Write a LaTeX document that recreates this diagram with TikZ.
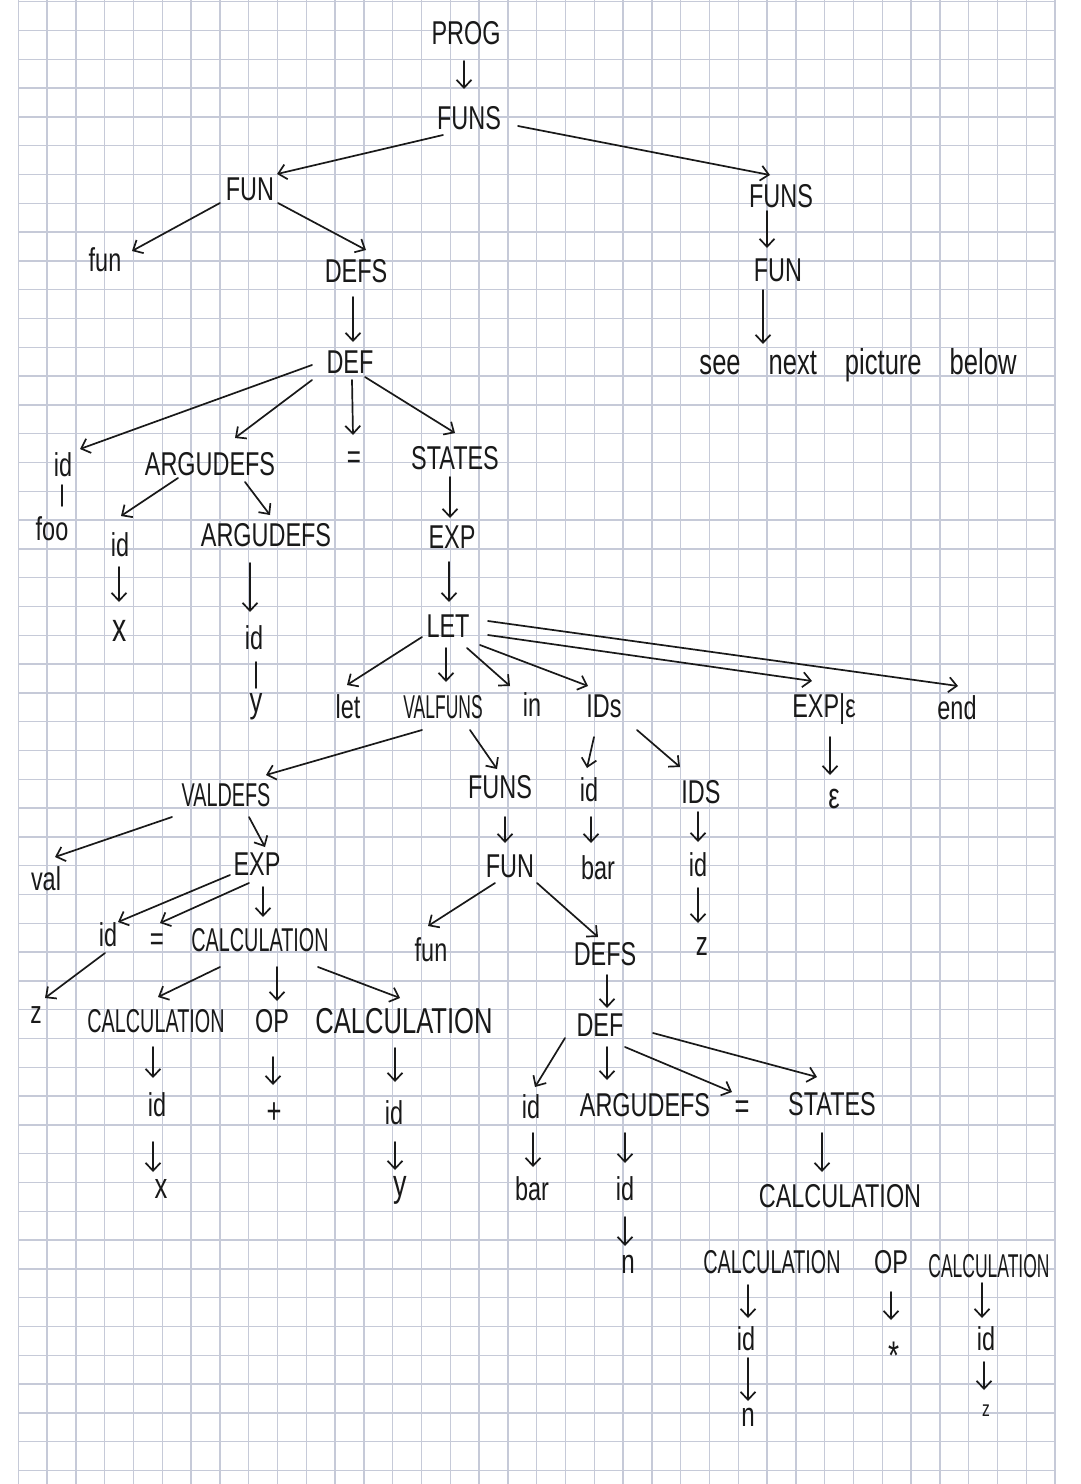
\documentclass[tikz,border=0pt]{standalone}
\usepackage{fontspec}
\setmainfont{Liberation Sans}[FakeStretch=0.71]
\newfontfamily\hwn{Liberation Sans}[FakeStretch=0.60]
\newfontfamily\hwnn{Liberation Sans}[FakeStretch=0.53]
\usetikzlibrary{arrows.meta}
\definecolor{ink}{RGB}{25,25,25}
\definecolor{gridc}{RGB}{198,202,216}
\tikzset{
  lbl/.style={font=\fontsize{33}{35}\selectfont, text height=24pt, text depth=0pt, inner sep=0pt, text=ink},
  sym/.style={inner sep=0pt, text=ink},
  arr/.style={draw=ink, line width=1.7pt, line cap=round, -{Straight Barb[length=8pt,width=15pt]}},
  lnk/.style={draw=ink, line width=1.7pt, line cap=round},
  gridln/.style={draw=gridc, line width=1.5pt}
}
\begin{document}
\begin{tikzpicture}[x=1pt,y=-1pt]
\useasboundingbox (0,0) rectangle (1080,1484);
\fill[white] (0,0) rectangle (1080,1484);
% grid paper
\foreach \k in {0,...,36} { \draw[gridln] ({18.3+28.8*\k},0) -- ({18.3+28.8*\k},1484); }
\foreach \k in {0,...,51} { \draw[gridln] (18.3,{1.7+28.8*\k}) -- (1055.1,{1.7+28.8*\k}); }

% nodes
\node[lbl] (PROG) at (466,32) {PROG};
\node[lbl] (FUNSa) at (469,117) {FUNS};
\node[lbl] (FUNa) at (250,188) {FUN};
\node[lbl] (FUNSb) at (781,195) {FUNS};
\node[lbl] (funa) at (105,259) {fun};
\node[lbl] (DEFSa) at (356,270) {DEFS};
\node[lbl] (FUNb) at (778,269) {FUN};
\node[lbl, font=\fontsize{36}{38}\selectfont] (see) at (858,362) {\spaceskip=28pt see next picture below};
\node[lbl] (DEFa) at (350,361) {DEF};
\node[lbl] (ida) at (63,464) {id};
\node[lbl] (foo) at (52,528) {foo};
\node[lbl] (ARGa) at (210,463) {ARGUDEFS};
\node[sym, font=\fontsize{34}{36}\selectfont] (eqa) at (354,460) {=};
\node[lbl] (STATESa) at (455,457) {STATES};
\node[lbl] (idx) at (120,544) {id};
\node[sym, font=\fontsize{40}{42}\selectfont] (xa) at (120,631) {x};
\node[lbl] (ARGb) at (266,534) {ARGUDEFS};
\node[lbl] (idy) at (254,637) {id};
\node[sym, font=\fontsize{36}{38}\selectfont] (ya) at (256,707) {y};
\node[lbl] (EXPa) at (452,536) {EXP};
\node[lbl] (LET) at (448,625) {LET};
\node[lbl] (let) at (348,706) {let};
\node[lbl, font=\fontsize{33}{35}\hwnn] (VALFUNS) at (443,706) {VALFUNS};
\node[lbl] (in) at (532,704) {in};
\node[lbl] (IDs) at (604,705) {IDs};
\node[lbl] (EXPeps) at (824,705) {EXP|ε};
\node[lbl] (end) at (957,707) {end};
\node[lbl, font=\fontsize{33}{35}\hwn] (VALDEFS) at (226,794) {VALDEFS};
\node[lbl] (FUNSc) at (500,786) {FUNS};
\node[lbl] (idbar) at (589,789) {id};
\node[lbl] (IDS) at (701,791) {IDS};
\node[sym, font=\fontsize{36}{38}\selectfont] (eps) at (834,799) {ε};
\node[lbl] (val) at (46,878) {val};
\node[lbl] (EXPb) at (257,863) {EXP};
\node[lbl] (FUNc) at (510,865) {FUN};
\node[lbl] (bara) at (598,867) {bar};
\node[lbl] (idz) at (698,864) {id};
\node[lbl] (idl) at (108,934) {id};
\node[sym, font=\fontsize{34}{36}\selectfont] (eqb) at (157,942) {=};
\node[lbl, font=\fontsize{33}{35}\hwn] (CALCa) at (260,939) {CALCULATION};
\node[lbl] (func) at (431,949) {fun};
\node[lbl] (DEFSb) at (605,953) {DEFS};
\node[sym, font=\fontsize{34}{36}\selectfont] (za) at (702,947) {z};
\node[sym, font=\fontsize{32}{34}\selectfont] (zb) at (36,1015) {z};
\node[lbl, font=\fontsize{33}{35}\hwn] (CALCb) at (156,1020) {CALCULATION};
\node[lbl] (OPa) at (272,1020) {OP};
\node[lbl, font=\fontsize{36}{38}\selectfont] (CALCc) at (404,1021) {CALCULATION};
\node[lbl] (DEFb) at (600,1024) {DEF};
\node[lbl] (idc) at (157,1104) {id};
\node[sym, font=\fontsize{36}{38}\selectfont] (plus) at (274,1113) {+};
\node[lbl] (idd) at (394,1112) {id};
\node[lbl] (ide) at (531,1106) {id};
\node[lbl] (ARGc) at (645,1104) {ARGUDEFS};
\node[sym, font=\fontsize{36}{38}\selectfont] (eqc) at (742,1110) {=};
\node[lbl] (STATESb) at (832,1103) {STATES};
\node[sym, font=\fontsize{36}{38}\selectfont] (xb) at (161,1189) {x};
\node[sym, font=\fontsize{38}{40}\selectfont] (yb) at (400,1190) {y};
\node[lbl] (barb) at (532,1188) {bar};
\node[lbl] (idf) at (625,1188) {id};
\node[lbl] (CALCd) at (840,1195) {CALCULATION};
\node[sym, font=\fontsize{34}{36}\selectfont] (na) at (628,1264) {n};
\node[lbl, font=\fontsize{33}{35}\hwn] (CALCe) at (772,1261) {CALCULATION};
\node[lbl] (OPb) at (891,1261) {OP};
\node[lbl, font=\fontsize{33}{35}\hwnn] (CALCf) at (989,1265) {CALCULATION};
\node[lbl] (idg) at (746,1338) {id};
\node[sym, font=\fontsize{40}{42}\selectfont] (star) at (894,1356) {*};
\node[lbl] (idh) at (986,1338) {id};
\node[sym, font=\fontsize{34}{36}\selectfont] (nb) at (748,1417) {n};
\node[sym, font=\fontsize{22}{24}\selectfont] (zc) at (986,1411) {z};

% connectors
\draw[arr] ([shift={(-2,29)}]PROG.center) -- ([shift={(-5,-28)}]FUNSa.center);
\draw[arr] ([shift={(-26,18)}]FUNSa.center) -- ([shift={(27,-14)}]FUNa.center);
\draw[arr] ([shift={(49,9)}]FUNSa.center) -- ([shift={(-11,-20)}]FUNSb.center);
\draw[arr] ([shift={(-30,15)}]FUNa.center) -- ([shift={(27,-8)}]funa.center);
\draw[arr] ([shift={(28,15)}]FUNa.center) -- ([shift={(10,-20)}]DEFSa.center);
\draw[arr] ([shift={(-3,27)}]DEFSa.center) -- ([shift={(3,-19)}]DEFa.center);
\draw[arr] ([shift={(-14,16)}]FUNSb.center) -- ([shift={(-11,-21)}]FUNb.center);
\draw[arr] ([shift={(-15,21)}]FUNb.center) -- ([shift={(-95,-18)}]see.center);
\draw[arr] ([shift={(-38,4)}]DEFa.center) -- ([shift={(17,-15)}]ida.center);
\draw[arr] ([shift={(-38,19)}]DEFa.center) -- ([shift={(25,-25)}]ARGa.center);
\draw[arr] ([shift={(2,19)}]DEFa.center) -- ([shift={(-1,-25)}]eqa.center);
\draw[arr] ([shift={(15,16)}]DEFa.center) -- ([shift={(0,-24)}]STATESa.center);
\draw[lnk] ([shift={(-1,21)}]ida.center) -- ([shift={(10,-22)}]foo.center);
\draw[arr] ([shift={(-32,15)}]ARGa.center) -- ([shift={(1,-28)}]idx.center);
\draw[arr] ([shift={(35,19)}]ARGa.center) -- ([shift={(4,-19)}]ARGb.center);
\draw[arr] ([shift={(-1,23)}]idx.center) -- ([shift={(-1,-29)}]xa.center);
\draw[arr] ([shift={(-16,29)}]ARGb.center) -- ([shift={(-4,-25)}]idy.center);
\draw[lnk] ([shift={(2,25)}]idy.center) -- ([shift={(0,-19)}]ya.center);
\draw[arr] ([shift={(-5,20)}]STATESa.center) -- ([shift={(-2,-18)}]EXPa.center);
\draw[arr] ([shift={(-3,26)}]EXPa.center) -- ([shift={(1,-23)}]LET.center);
\draw[arr] ([shift={(-26,12)}]LET.center) -- ([shift={(-1,-21)}]let.center);
\draw[arr] ([shift={(-2,23)}]LET.center) -- ([shift={(3,-24)}]VALFUNS.center);
\draw[arr] ([shift={(19,23)}]LET.center) -- ([shift={(-22,-18)}]in.center);
\draw[arr] ([shift={(32,20)}]LET.center) -- ([shift={(-16,-19)}]IDs.center);
\draw[arr] ([shift={(40,10)}]LET.center) -- ([shift={(-12,-24)}]EXPeps.center);
\draw[arr] ([shift={(40,-4)}]LET.center) -- ([shift={(1,-21)}]end.center);
\draw[arr] ([shift={(-21,24)}]VALFUNS.center) -- ([shift={(40,-19)}]VALDEFS.center);
\draw[arr] ([shift={(27,24)}]VALFUNS.center) -- ([shift={(-3,-17)}]FUNSc.center);
\draw[arr] ([shift={(-10,32)}]IDs.center) -- ([shift={(-2,-21)}]idbar.center);
\draw[arr] ([shift={(33,25)}]IDs.center) -- ([shift={(-21,-24)}]IDS.center);
\draw[arr] ([shift={(6,32)}]EXPeps.center) -- ([shift={(-4,-24)}]eps.center);
\draw[arr] ([shift={(-54,23)}]VALDEFS.center) -- ([shift={(9,-21)}]val.center);
\draw[arr] ([shift={(23,23)}]VALDEFS.center) -- ([shift={(8,-16)}]EXPb.center);
\draw[arr] ([shift={(5,31)}]FUNSc.center) -- ([shift={(-5,-22)}]FUNc.center);
\draw[arr] ([shift={(2,28)}]idbar.center) -- ([shift={(-7,-24)}]bara.center);
\draw[arr] ([shift={(-3,21)}]IDS.center) -- ([shift={(0,-22)}]idz.center);
\draw[arr] ([shift={(0,24)}]idz.center) -- ([shift={(-4,-24)}]za.center);
\draw[arr] ([shift={(-27,12)}]EXPb.center) -- ([shift={(10,-12)}]idl.center);
\draw[arr] ([shift={(-8,20)}]EXPb.center) -- ([shift={(3,-19)}]eqb.center);
\draw[arr] ([shift={(6,24)}]EXPb.center) -- ([shift={(3,-22)}]CALCa.center);
\draw[arr] ([shift={(-15,18)}]FUNc.center) -- ([shift={(-3,-23)}]func.center);
\draw[arr] ([shift={(27,18)}]FUNc.center) -- ([shift={(-7,-16)}]DEFSb.center);
\draw[arr] ([shift={(-3,19)}]idl.center) -- ([shift={(9,-17)}]zb.center);
\draw[arr] ([shift={(-40,28)}]CALCa.center) -- ([shift={(2,-23)}]CALCb.center);
\draw[arr] ([shift={(17,28)}]CALCa.center) -- ([shift={(5,-19)}]OPa.center);
\draw[arr] ([shift={(58,28)}]CALCa.center) -- ([shift={(-4,-23)}]CALCc.center);
\draw[arr] ([shift={(2,22)}]DEFSb.center) -- ([shift={(7,-16)}]DEFb.center);
\draw[arr] ([shift={(-3,27)}]CALCb.center) -- ([shift={(-4,-26)}]idc.center);
\draw[arr] ([shift={(1,37)}]OPa.center) -- ([shift={(-1,-28)}]plus.center);
\draw[arr] ([shift={(-9,27)}]CALCc.center) -- ([shift={(1,-30)}]idd.center);
\draw[arr] ([shift={(-35,14)}]DEFb.center) -- ([shift={(4,-19)}]ide.center);
\draw[arr] ([shift={(7,23)}]DEFb.center) -- ([shift={(-38,-24)}]ARGc.center);
\draw[arr] ([shift={(25,23)}]DEFb.center) -- ([shift={(-10,-18)}]eqc.center);
\draw[arr] ([shift={(53,9)}]DEFb.center) -- ([shift={(-15,-26)}]STATESb.center);
\draw[arr] ([shift={(-4,38)}]idc.center) -- ([shift={(-8,-17)}]xb.center);
\draw[arr] ([shift={(1,30)}]idd.center) -- ([shift={(-5,-20)}]yb.center);
\draw[arr] ([shift={(2,27)}]ide.center) -- ([shift={(1,-21)}]barb.center);
\draw[arr] ([shift={(-20,29)}]ARGc.center) -- ([shift={(0,-25)}]idf.center);
\draw[arr] ([shift={(-10,30)}]STATESb.center) -- ([shift={(-18,-23)}]CALCd.center);
\draw[arr] ([shift={(0,29)}]idf.center) -- ([shift={(-3,-18)}]na.center);
\draw[arr] ([shift={(-24,24)}]CALCe.center) -- ([shift={(2,-20)}]idg.center);
\draw[arr] ([shift={(0,31)}]OPb.center) -- ([shift={(-3,-36)}]star.center);
\draw[arr] ([shift={(-7,18)}]CALCf.center) -- ([shift={(-4,-20)}]idh.center);
\draw[arr] ([shift={(2,20)}]idg.center) -- ([shift={(0,-16)}]nb.center);
\draw[arr] ([shift={(-2,24)}]idh.center) -- ([shift={(-2,-21)}]zc.center);
\end{tikzpicture}
\end{document}
